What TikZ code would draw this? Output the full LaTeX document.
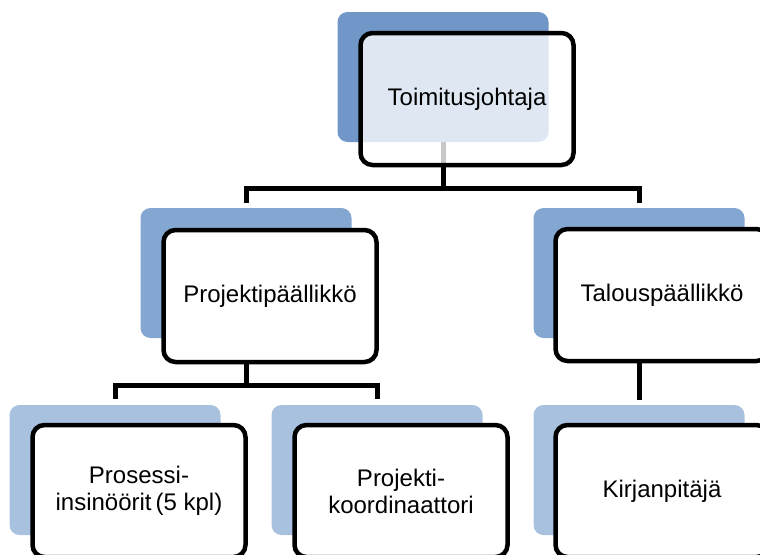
\documentclass[tikz,border=0pt]{standalone}
\usepackage{fontspec}
\setmainfont{Liberation Sans}
\definecolor{blueA}{HTML}{7097C8}
\definecolor{blueB}{HTML}{84A7D1}
\definecolor{blueC}{HTML}{A8C1DF}
\tikzset{
  backbox/.style={draw=none, rounded corners=10pt, minimum width=211pt, minimum height=130pt, inner sep=0pt},
  frontbox/.style={draw=black, line width=4.5pt, fill=white, rounded corners=12pt, minimum width=213pt, minimum height=132pt, inner sep=0pt, align=center, font=\fontsize{24}{27}\selectfont},
  conn/.style={draw=black, line width=5pt}
}
\begin{document}
\begin{tikzpicture}[x=1pt,y=-1pt]
\useasboundingbox (0,0) rectangle (760,554);
\clip (0,0) rectangle (760,554);
% junction coordinates
\coordinate (j1) at (443,188);
\coordinate (e2l) at (246,203);
\coordinate (e2r) at (639,203);
\coordinate (j2) at (246,385);
\coordinate (e3l) at (115,399);
\coordinate (e3m) at (377,399);
\coordinate (e3r) at (639,400);
% back boxes positions (centres)
\coordinate (c1) at (443,77);
\coordinate (c2l) at (246,273);
\coordinate (c2r) at (639,273);
\coordinate (c3l) at (115,470);
\coordinate (c3m) at (377,470);
\coordinate (c3r) at (639,470);
% connectors
\draw[conn] (c1) -- (j1) -| (e2l);
\draw[conn] (j1) -| (e2r);
\draw[conn] (c2l) -- (j2) -| (e3l);
\draw[conn] (j2) -| (e3m);
\draw[conn] (c2r) -- (e3r);
% back boxes
\node[backbox, fill=blueA] (b1) at (c1) {};
\node[backbox, fill=blueB] (b2l) at (c2l) {};
\node[backbox, fill=blueB] (b2r) at (c2r) {};
\node[backbox, fill=blueC] (b3l) at (c3l) {};
\node[backbox, fill=blueC] (b3m) at (c3m) {};
\node[backbox, fill=blueC] (b3r) at (c3r) {};
% front boxes
\node[frontbox, fill opacity=0.78, text opacity=1] (f1) at ([shift={(24,22)}]b1.center) {Toimitusjohtaja};
\node[frontbox] (f2l) at ([shift={(24,23)}]b2l.center) {Projektipäällikkö};
\node[frontbox] (f2r) at ([shift={(23,22)}]b2r.center) {Talouspäällikkö};
\node[frontbox] (f3l) at ([shift={(24,21)}]b3l.center) {Prosessi-\\insinöörit\,(5 kpl)};
\node[frontbox] (f3m) at ([shift={(24,21)}]b3m.center) {Projekti-\\koordinaattori};
\node[frontbox] (f3r) at ([shift={(23,21)}]b3r.center) {Kirjanpitäjä};
\end{tikzpicture}
\end{document}
